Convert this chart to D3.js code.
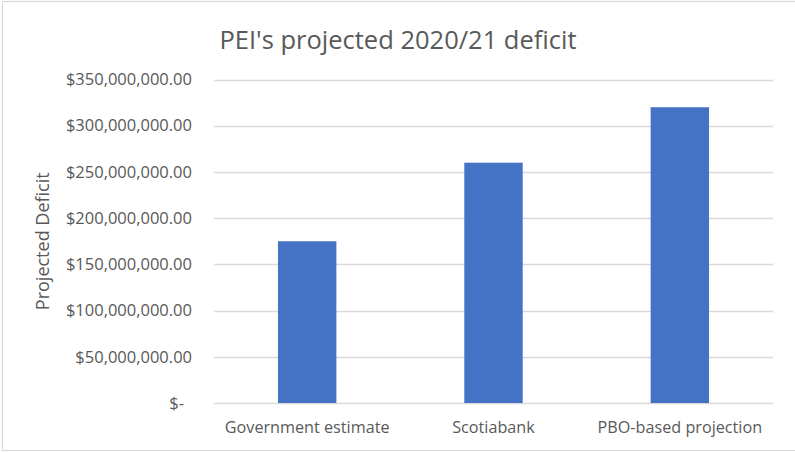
<!DOCTYPE html>
<html>
<head>
<meta charset="utf-8">
<script src="https://cdn.jsdelivr.net/npm/d3@7"></script>
<style>
  body { margin: 0; background: #fff; }
  svg { display: block; font-family: "Open Sans", sans-serif; }
  .tick text { fill: #595959; }
</style>
</head>
<body>
<div id="chart"></div>
<script>
const categories = ["Government estimate", "Scotiabank", "PBO-based projection"];
const deficits = [175000000, 260000000, 320000000];
const yTicks = [0, 50000000, 100000000, 150000000, 200000000, 250000000, 300000000, 350000000];

const width = 795;
const height = 452;
const margin = { top: 79.5, right: 22, bottom: 49, left: 214 };

const svg = d3.select("#chart").append("svg")
  .attr("width", width)
  .attr("height", height);

// chart area border (right edge falls outside the frame)
svg.append("rect")
  .attr("x", 2.5)
  .attr("y", 1.5)
  .attr("width", width + 10)
  .attr("height", 449)
  .attr("fill", "none")
  .attr("stroke", "#d9d9d9")
  .attr("stroke-width", 1.2);

const x = d3.scaleBand()
  .domain(categories)
  .range([margin.left, width - margin.right])
  .paddingInner(0.6865)
  .paddingOuter(0.6865 / 2);

const y = d3.scaleLinear()
  .domain([0, 350000000])
  .range([height - margin.bottom, margin.top]);

const money = d3.format("$,.2f");

// gridlines
svg.append("g")
  .selectAll("line")
  .data(yTicks)
  .join("line")
  .attr("x1", margin.left)
  .attr("x2", width - margin.right)
  .attr("y1", d => Math.round(y(d)) + 0.5)
  .attr("y2", d => Math.round(y(d)) + 0.5)
  .attr("stroke", "#d9d9d9")
  .attr("stroke-width", 1.3);

// y axis labels
const yAxis = svg.append("g")
  .attr("transform", `translate(${margin.left - 22},0)`)
  .call(d3.axisLeft(y).tickValues(yTicks).tickSize(0).tickPadding(0)
    .tickFormat(d => d === 0 ? "$-" : money(d)))
  .call(g => g.select(".domain").remove());

yAxis.selectAll("text")
  .attr("font-size", 16.5)
  .attr("font-family", "Open Sans, sans-serif")
  .attr("dx", d => d === 0 ? -8 : 0);

// bars
svg.append("g")
  .selectAll("rect")
  .data(deficits)
  .join("rect")
  .attr("x", (d, i) => x(categories[i]))
  .attr("y", d => y(d))
  .attr("width", x.bandwidth())
  .attr("height", d => y(0) - y(d))
  .attr("fill", "#4472c4");

// category labels
svg.append("g")
  .attr("transform", `translate(0,${height - margin.bottom})`)
  .call(d3.axisBottom(x).tickSize(0).tickPadding(0))
  .call(g => g.select(".domain").remove())
  .selectAll("text")
  .attr("font-size", 16.2)
  .attr("font-family", "Open Sans, sans-serif")
  .attr("dy", null)
  .attr("y", 30);

// axis title
svg.append("text")
  .attr("transform", `translate(49,${(y(0) + y(350000000)) / 2}) rotate(-90)`)
  .attr("text-anchor", "middle")
  .attr("fill", "#595959")
  .attr("font-size", 18)
  .text("Projected Deficit");

// chart title
svg.append("text")
  .attr("x", 398)
  .attr("y", 49)
  .attr("text-anchor", "middle")
  .attr("fill", "#595959")
  .attr("font-size", 25.5)
  .text("PEI's projected 2020/21 deficit");
</script>
</body>
</html>
